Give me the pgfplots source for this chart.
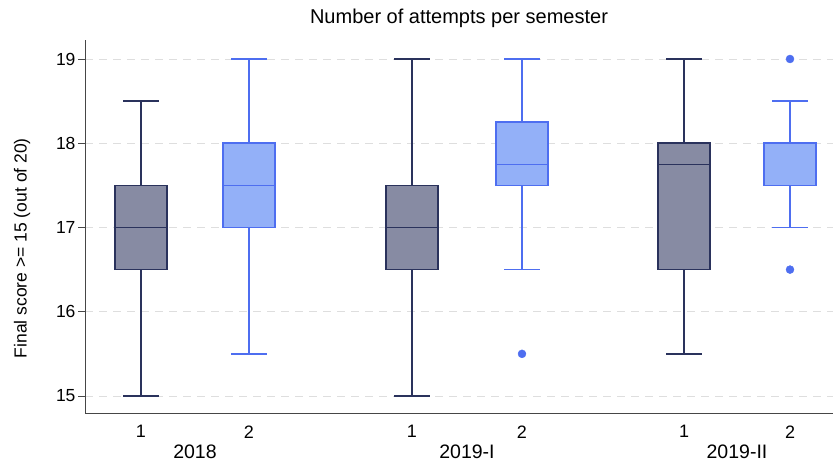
\documentclass[border=0pt]{standalone}
\usepackage{pgfplots}
\pgfplotsset{compat=1.18}
\usepgfplotslibrary{statistics}
\usepackage{fontspec}
\setmainfont{Liberation Sans}
\definecolor{darkedge}{RGB}{42,50,92}
\definecolor{darkfill}{RGB}{135,139,163}
\definecolor{lightedge}{RGB}{78,110,240}
\definecolor{lightfill}{RGB}{147,176,248}
\definecolor{gridc}{RGB}{222,222,222}
\definecolor{axc}{RGB}{70,70,70}
\pgfplotsset{
 darkbox/.style={solid, draw=darkedge, line width=1.6pt,
   boxplot/every box/.style={fill=darkfill},
   boxplot/box extend=0.52, boxplot/whisker extend=0.36},
 lightbox/.style={solid, draw=lightedge, line width=1.6pt,
   boxplot/every box/.style={fill=lightfill},
   boxplot/box extend=0.52, boxplot/whisker extend=0.36},
}
\begin{document}
\begin{tikzpicture}
\path[use as bounding box] (0,0) rectangle (833pt,464pt);
\begin{axis}[
 at={(85pt,51pt)}, anchor=south west, scale only axis,
 width=748pt, height=373pt,
 xmin=0.85, xmax=8.33, ymin=14.798, ymax=19.2255,
 axis x line*=bottom, axis y line*=left,
 axis line style={draw=axc, line width=0.9pt},
 xtick={1.41,2.49,4.12,5.22,6.84,7.90},
 xticklabels={1,2,1,2,1,2},
 ytick={15,16,17,18,19},
 ymajorgrids,
 grid style={gridc, dash pattern=on 8pt off 6pt, line width=0.9pt},
 x tick style={draw=none},
 y tick style={draw=axc, line width=0.9pt},
 tick align=outside, major tick length=7pt,
 yticklabel style={font=\fontsize{17.5}{20}\selectfont, xshift=1pt},
 xticklabel style={font=\fontsize{18}{20}\selectfont, yshift=-2pt},
 /pgf/number format/assume math mode=true,
 clip=false,
 boxplot/draw direction=y,
]
% 2018
\addplot[darkbox, boxplot prepared={draw position=1.41, lower whisker=15, lower quartile=16.5, median=17, upper quartile=17.5, upper whisker=18.5}] coordinates {};
\addplot[lightbox, boxplot prepared={draw position=2.49, lower whisker=15.5, lower quartile=17, median=17.5, upper quartile=18, upper whisker=19}] coordinates {};
% 2019-I
\addplot[darkbox, boxplot prepared={draw position=4.12, lower whisker=15, lower quartile=16.5, median=17, upper quartile=17.5, upper whisker=19}] coordinates {};
\addplot[lightbox, boxplot prepared={draw position=5.22, lower whisker=16.5, lower quartile=17.5, median=17.75, upper quartile=18.25, upper whisker=19}] coordinates {};
% 2019-II
\addplot[darkbox, boxplot prepared={draw position=6.84, lower whisker=15.5, lower quartile=16.5, median=17.75, upper quartile=18, upper whisker=19}] coordinates {};
\addplot[lightbox, boxplot prepared={draw position=7.90, lower whisker=17, lower quartile=17.5, median=18, upper quartile=18, upper whisker=18.5}] coordinates {};
% outliers
\addplot[only marks, mark=*, mark size=4pt, color=lightedge, fill=lightedge] coordinates {(5.22,15.5) (7.90,19) (7.90,16.5)};
% labels
\node[font=\fontsize{19.5}{22}\selectfont, yshift=-39pt] at (axis cs:1.95,14.798) {2018};
\node[font=\fontsize{19.5}{22}\selectfont, yshift=-39pt] at (axis cs:4.67,14.798) {2019-I};
\node[font=\fontsize{19.5}{22}\selectfont, yshift=-39pt] at (axis cs:7.37,14.798) {2019-II};
\node[font=\fontsize{20}{22}\selectfont, yshift=22pt] at (rel axis cs:0.5,1) {Number of attempts per semester};
\node[font=\fontsize{17.5}{20}\selectfont, rotate=90] at (rel axis cs:-0.084,0.442) {Final score >= 15 (out of 20)};
\end{axis}
\end{tikzpicture}
\end{document}
